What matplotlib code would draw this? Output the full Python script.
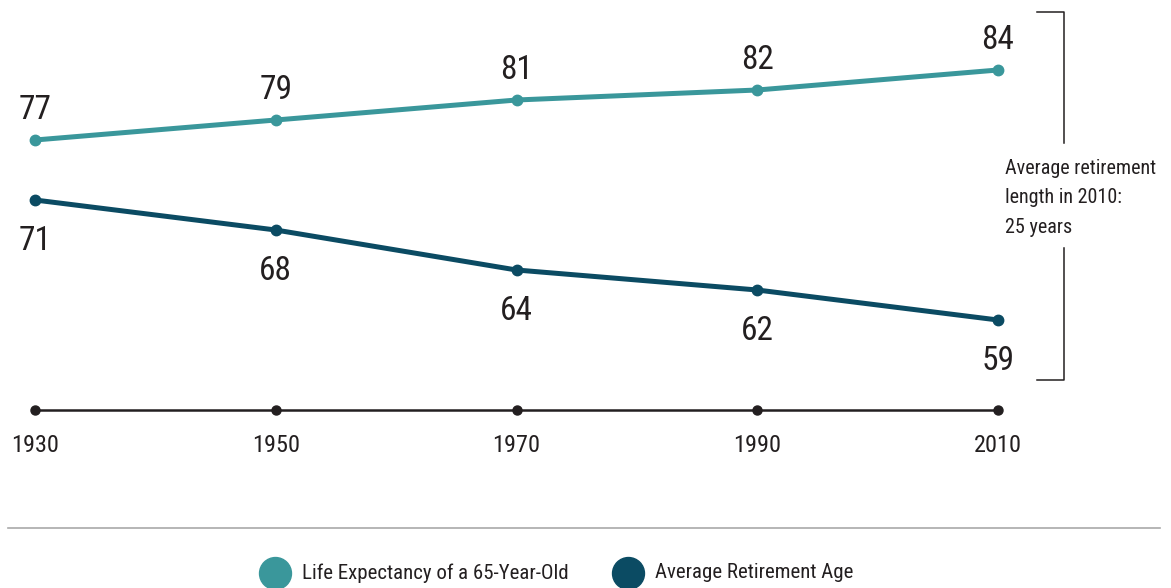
import matplotlib

matplotlib.use("Agg")
import matplotlib.pyplot as plt
from matplotlib import font_manager
from matplotlib.lines import Line2D

years = [1930, 1950, 1970, 1990, 2010]
life_expectancy = [77, 79, 81, 82, 84]
retirement_age = [71, 68, 64, 62, 59]
baseline = 50
series_labels = ["Life Expectancy of a 65-Year-Old", "Average Retirement Age"]
note = "Average retirement\nlength in 2010:\n25 years"

TEAL = "#3a979b"
DARK = "#0b4b63"
INK = "#231f20"


def pick_narrow_font():
    """Find an installed condensed/narrow face, closest to the reference's gothic."""
    wanted = ["Roboto Condensed", "Liberation Sans Narrow", "Open Sans Condensed",
              "Noto Sans Condensed", "DejaVu Sans Condensed"]
    found = {}
    for f in font_manager.fontManager.ttflist:
        low = f.fname.lower()
        if f.weight not in (400, "normal", "regular") or f.style != "normal":
            continue
        if "bold" in low or "italic" in low or "light" in low or "semi" in low:
            continue
        if "condensed" in low or "narrow" in low or f.stretch in ("condensed", 75, "semi-condensed"):
            found.setdefault(f.name + "|" + str(f.stretch), f.fname)
    for w in wanted:
        for key, path in found.items():
            if key.startswith(w) or (w.endswith("Condensed") and key.startswith(w.replace(" Condensed", ""))):
                return path
    return next(iter(found.values()), None)


def main():
    path = pick_narrow_font()
    fp = font_manager.FontProperties(fname=path) if path else font_manager.FontProperties(family="DejaVu Sans")

    fig = plt.figure(figsize=(11.71, 5.88), dpi=100)
    ax = fig.add_axes([0, 0, 1, 1])
    ax.set_xlim(1927.09, 2024.37)
    ax.set_ylim(32.2, 91.0)
    ax.axis("off")

    # baseline axis with year dots
    ax.plot(years, [baseline] * len(years), color=INK, lw=1.8, marker="o", ms=6.5)
    for yr in years:
        ax.text(yr, baseline - 3.5, str(yr), ha="center", va="center", fontproperties=fp,
                fontsize=17.5, color=INK)

    # series
    ax.plot(years, life_expectancy, color=TEAL, lw=3.6, marker="o", ms=7.5, solid_capstyle="round")
    ax.plot(years, retirement_age, color=DARK, lw=3.6, marker="o", ms=7.5, solid_capstyle="round")
    for yr, v in zip(years, life_expectancy):
        ax.text(yr, v + 3.0, str(v), ha="center", va="center", fontproperties=fp,
                fontsize=24, color=INK)
    for yr, v in zip(years, retirement_age):
        ax.text(yr, v - 4.1, str(v), ha="center", va="center", fontproperties=fp,
                fontsize=24, color=INK)

    # bracket on the right
    bx = 2024.37 - (1171 - 1064) / 12.0375
    bl = bx - 27 / 12.0375
    ax.plot([bl, bx, bx], [89.8, 89.8, 76.7], color=INK, lw=1.1, clip_on=False)
    ax.plot([bl, bx, bx], [53.0, 53.0, 66.2], color=INK, lw=1.1, clip_on=False)
    ax.text(2010 + 0.55, 71.2, note, ha="left", va="center", fontproperties=fp,
            fontsize=14.5, color=INK, linespacing=1.72)

    # separator
    fig.add_artist(Line2D([8 / 1171, 1160 / 1171], [1 - 528 / 588] * 2,
                          color="#a9a9a9", lw=1.2))

    # legend
    ly = 77 - (573 - 140) / 10
    for px, color, label in [(275, TEAL, series_labels[0]), (628, DARK, series_labels[1])]:
        x = 1927.09 + px / 12.0375
        ax.plot([x], [ly], marker="o", ms=23, color=color, clip_on=False)
        ax.text(x + 27 / 12.0375, ly, label, ha="left", va="center", fontproperties=fp,
                fontsize=15, color=INK)

    fig.savefig("out.png", dpi=100)


if __name__ == "__main__":
    main()
